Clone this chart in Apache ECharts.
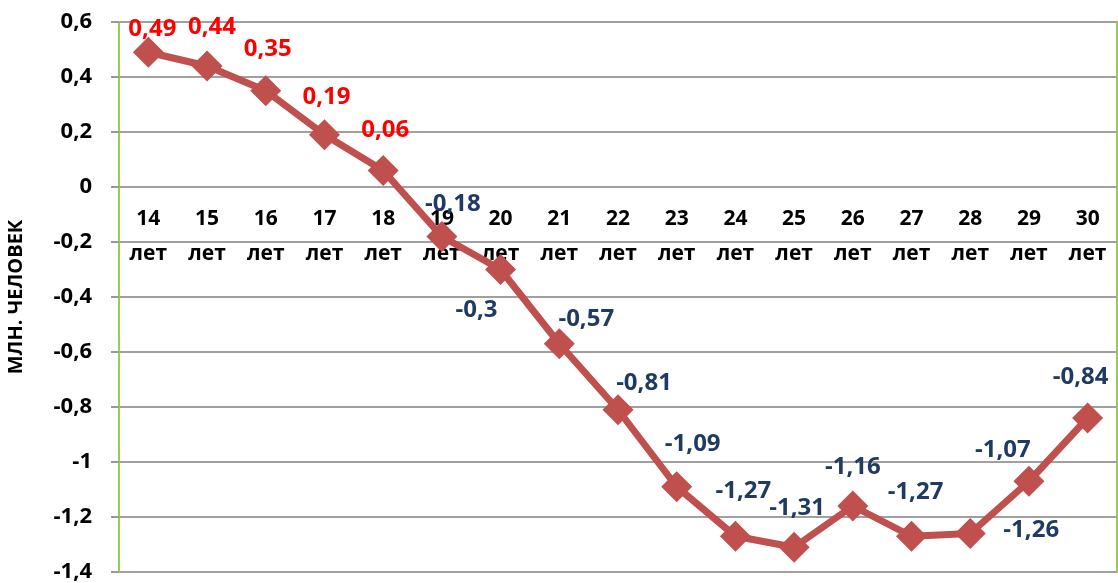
<!DOCTYPE html>
<html>
<head>
<meta charset="utf-8">
<script src="https://cdn.jsdelivr.net/npm/echarts@6/dist/echarts.min.js"></script>
<style>
  html, body { margin: 0; padding: 0; background: #fff; }
  #chart { width: 1118px; height: 583px; }
</style>
</head>
<body>
<div id="chart"></div>
<script>
// данные
var ages = ['14', '15', '16', '17', '18', '19', '20', '21', '22', '23', '24', '25', '26', '27', '28', '29', '30'];
var values = [0.49, 0.44, 0.35, 0.19, 0.06, -0.18, -0.3, -0.57, -0.81, -1.09, -1.27, -1.31, -1.16, -1.27, -1.26, -1.07, -0.84];
// смещения подписей [dx, dy]
var labelOffsets = [[4, -23], [5, -39], [2, -42], [2, -38], [2, -40], [11, -32], [-24, 41], [27, -25], [26, -27],
  [16, -43], [8, -45], [3, -39], [0, -39], [4, -44], [61, -3], [-26, -31], [-7, -41]];

var FONT = '"Open Sans", "DejaVu Sans", sans-serif';

function fmt(v) {
  return String(Math.round(v * 100) / 100).replace('.', ',');
}

var chart = echarts.init(document.getElementById('chart'));

var seriesData = values.map(function (v, i) {
  return {
    value: v,
    label: {
      offset: labelOffsets[i],
      color: v >= 0 ? '#FF0000' : '#1F3B64'
    }
  };
});

var option = {
  animation: false,
  grid: {
    left: 119, right: 1, top: 22, bottom: 11,
    containLabel: false,
    outerBoundsMode: 'none',
    show: true,
    borderColor: '#92D050',
    borderWidth: 2
  },
  xAxis: {
    type: 'category',
    data: ages,
    position: 'top',
    boundaryGap: true,
    axisLine: { show: false, onZero: false },
    axisTick: { show: false },
    splitLine: { show: false },
    axisLabel: {
      inside: true,
      interval: 0,
      margin: 180,
      hideOverlap: false,
      fontFamily: FONT,
      fontWeight: 'bold',
      fontSize: 21,
      lineHeight: 35,
      color: '#000',
      formatter: function (v) { return v + '\nлет'; }
    }
  },
  yAxis: {
    type: 'value',
    min: -1.4,
    max: 0.6,
    interval: 0.2,
    name: 'МЛН. ЧЕЛОВЕК',
    nameLocation: 'middle',
    nameGap: 93,
    nameTextStyle: {
      fontFamily: FONT,
      fontWeight: 'bold',
      fontSize: 20,
      color: '#000'
    },
    axisLine: { show: true, lineStyle: { color: '#92D050', width: 2 } },
    axisTick: { show: true, length: 8, lineStyle: { color: '#999', width: 2 } },
    splitLine: { show: true, lineStyle: { color: '#A0A0A0', width: 2 } },
    axisLabel: {
      margin: 27,
      fontFamily: FONT,
      fontWeight: 'bold',
      fontSize: 22,
      color: '#000',
      formatter: function (v) { return fmt(v); }
    }
  },
  series: [{
    type: 'line',
    data: seriesData,
    symbol: 'diamond',
    symbolSize: 31,
    lineStyle: { color: '#C0504D', width: 7 },
    itemStyle: { color: '#C0504D' },
    label: {
      show: true,
      position: 'inside',
      fontFamily: FONT,
      fontWeight: 'bold',
      fontSize: 24,
      formatter: function (p) { return fmt(p.value); }
    }
  }]
};

chart.setOption(option);
</script>
</body>
</html>
